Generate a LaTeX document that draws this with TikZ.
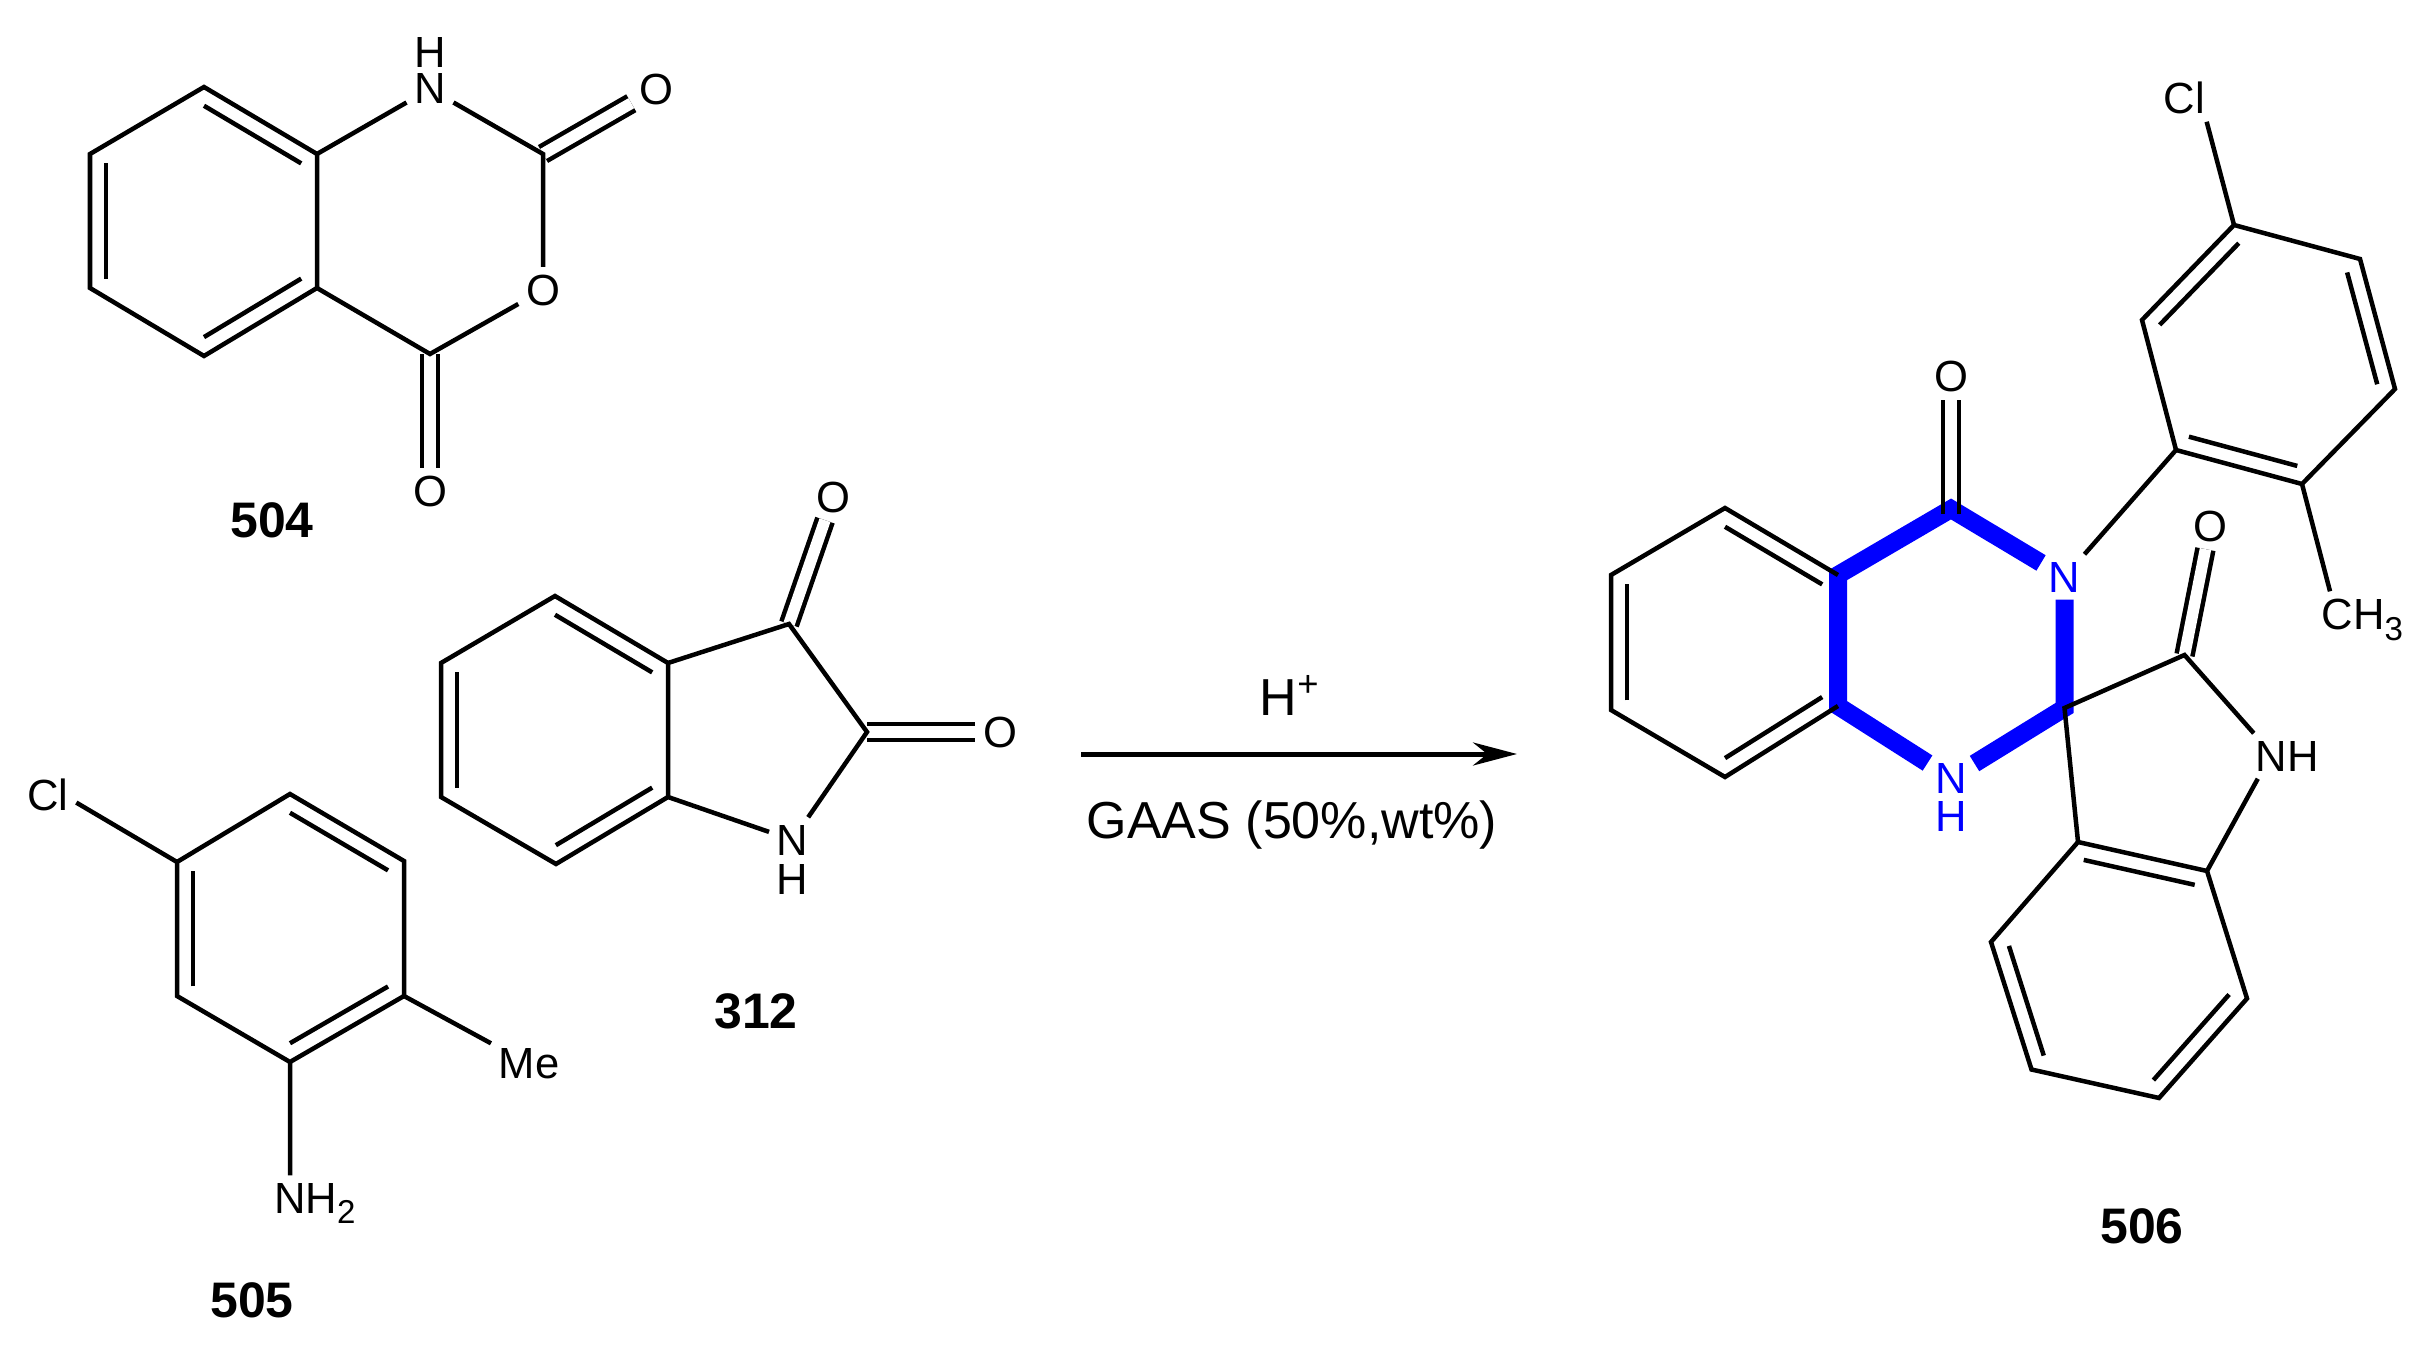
\documentclass[tikz,border=0pt]{standalone}
\usepackage{fontspec}
\setmainfont{Liberation Sans}
\usetikzlibrary{calc, arrows.meta}

\definecolor{hetblue}{RGB}{0,0,255}
\newcommand{\atomsub}[1]{\raisebox{-3pt}{\fontsize{9.4}{11}\selectfont #1}}

\tikzset{
  bond/.style={line width=0.045cm,black},
  dblbond/.style={line width=0.045cm,double=white,double distance=0.115cm,black},
  bluebond/.style={line width=0.18cm,hetblue,line join=miter},
  atom/.style={inner sep=2pt,font=\fontsize{12.4}{15}\selectfont},
  blueatom/.style={atom,text=hetblue},
  cpdlabel/.style={inner sep=0pt,font=\fontsize{14.2}{17}\selectfont\bfseries},
  reagent/.style={inner sep=2pt,font=\fontsize{14.8}{18}\selectfont},
  rxnarrow/.style={line width=0.05cm,-{Stealth[length=0.44cm,width=0.23cm]}}
}

\begin{document}
\begin{tikzpicture}[x=0.01cm,y=-0.01cm]
\useasboundingbox (0,0) rectangle (2433,1355);

\coordinate (ac) at (204,221);
\coordinate (a7) at (543,154);
\coordinate (a8) at (430,354);
\node[atom] (Na) at (430,89) {N};
\node[atom] (Ha) at (430,53) {H};
\node[atom] (Oa1) at (656,89) {O};
\node[atom] (Oa2) at (543,290) {O};
\node[atom] (Oa3) at (430,491) {O};
\draw[dblbond] (a7) -- (Oa1);
\draw[dblbond] (a8) -- (Oa3);
\draw[bond] (204,87) coordinate(a1) -- (317,154) coordinate(a2) -- (317,288) coordinate(a3) -- (204,356) coordinate(a4) -- (90,288) coordinate(a5) -- (90,154) coordinate(a6) -- cycle;
\foreach \p/\q in {a1/a2,a3/a4,a5/a6}
  \draw[bond] ($(\p)!.14!(ac)$) -- ($(\q)!.14!(ac)$);
\draw[bond] (a2) -- (Na) -- (a7) -- (Oa2) -- (a8) -- (a3);
\node[cpdlabel] (lab504) at (272,520) {504};

\coordinate (bc) at (555,730);
\coordinate (b7) at (789,624);
\coordinate (b8) at (867,732);
\node[atom] (Nb) at (792.5,840) {N};
\node[atom] (Hb) at (792.5,879) {H};
\node[atom] (Ob1) at (833,497) {O};
\node[atom] (Ob2) at (1000,732) {O};
\draw[dblbond] (b7) -- (Ob1);
\draw[dblbond] (b8) -- (Ob2);
\draw[bond] (555,596) coordinate(b1) -- (668,663) coordinate(b2) -- (668,797) coordinate(b3) -- (556,864) coordinate(b4) -- (441,797) coordinate(b5) -- (441,663) coordinate(b6) -- cycle;
\foreach \p/\q in {b1/b2,b3/b4,b5/b6}
  \draw[bond] ($(\p)!.14!(bc)$) -- ($(\q)!.14!(bc)$);
\draw[bond] (b2) -- (b7) -- (b8) -- (Nb) -- (b3);
\node[cpdlabel] (lab312) at (756,1011) {312};

\coordinate (cc) at (290,928);
\node[atom] (Clc) at (48,795) {Cl};
\node[atom] (Mec) at (529,1064) {Me};
\node[atom,anchor=base west] (NHc) at (266.3,1213) {NH\atomsub{2}};
\draw[bond] (290,794) coordinate(c1) -- (404,861) coordinate(c2) -- (404,996) coordinate(c3) -- (290,1062) coordinate(c4) -- (177,996) coordinate(c5) -- (177,862) coordinate(c6) -- cycle;
\foreach \p/\q in {c1/c2,c3/c4,c5/c6}
  \draw[bond] ($(\p)!.14!(cc)$) -- ($(\q)!.14!(cc)$);
\draw[bond] (c6) -- (Clc.-15);
\draw[bond] (c3) -- (Mec);
\draw[bond] (c4) -- ($(NHc.north west)+(23.7,0)$);
\node[cpdlabel] (lab505) at (252,1300) {505};

\coordinate (arrowL) at (1081,754);
\coordinate (arrowR) at (1517,754);
\draw[rxnarrow] (arrowL) -- (arrowR);
\node[reagent,anchor=base west] (acid) at (1252,715) {H\textsuperscript{+}};
\node[reagent,anchor=base] (gaas) at (1292,838) {GAAS (50\%,wt\%)};

\coordinate (fc) at (1725,642);
\coordinate (f2) at (1838,575);
\coordinate (f3) at (1838,706);
\coordinate (f7) at (1951,509);
\coordinate (spiro) at (2064.5,708);
\coordinate (k2) at (2184.5,655);
\node[blueatom] (Nf3) at (2064.5,577) {N};
\node[blueatom] (Nf1) at (1951,778) {N};
\node[blueatom] (Hf1) at (1951,816) {H};
\node[atom] (Of) at (1951,376) {O};
\node[atom] (Ok) at (2210,526) {O};
\node[atom] (Clg) at (2184.5,98) {Cl};
\node[atom,anchor=base west] (CHg) at (2314,629.5) {CH\atomsub{3}};
\node[atom] (NHk) at (2287,756) {NH};

\draw[dblbond] (k2) -- (Ok);
\draw[bluebond] (Nf3) -- (f7) -- (f2) -- (f3) -- (Nf1);
\draw[bluebond] (Nf3) -- (spiro) -- (Nf1);
\foreach \s in {-8,8}
  \draw[bond] ($(f7)+(\s,5)$) -- ($(Of)+(\s,24)$);

\draw[bond] (f2) -- (1725,508) coordinate(f1) -- (1611,575) coordinate(f6) -- (1611,710) coordinate(f5) -- (1725,777) coordinate(f4) -- (f3);
\foreach \p/\q in {f1/f2,f3/f4,f5/f6}
  \draw[bond] ($(\p)!.14!(fc)$) -- ($(\q)!.14!(fc)$);

\coordinate (gc) at (2268,355);
\draw[bond] (2176,450) coordinate(g1) -- (2142,320) coordinate(g2) -- (2234,225) coordinate(g3) -- (2360,259) coordinate(g4) -- (2395,389) coordinate(g5) -- (2302,484) coordinate(g6) -- cycle;
\foreach \p/\q in {g2/g3,g4/g5,g6/g1}
  \draw[bond] ($(\p)!.14!(gc)$) -- ($(\q)!.14!(gc)$);
\draw[bond] (Nf3) -- (g1);
\draw[bond] (g3) -- (Clg.-47);
\draw[bond] (g6) -- ($(CHg.north west)+(16,0)$);

\coordinate (hc) at (2119,970);
\draw[bond] (2078,842) coordinate(h1) -- (2207,871) coordinate(h2) -- (2247,998.5) coordinate(h3) -- (2159,1098) coordinate(h4) -- (2031.5,1069.5) coordinate(h5) -- (1991,942) coordinate(h6) -- cycle;
\foreach \p/\q in {h1/h2,h3/h4,h5/h6}
  \draw[bond] ($(\p)!.14!(hc)$) -- ($(\q)!.14!(hc)$);
\draw[bond] (h1) -- (spiro) -- (k2) -- ($(NHk.north west)+(6,0)$);
\draw[bond] ($(NHk.south west)+(10,0)$) -- (h2);
\node[cpdlabel] (lab506) at (2142,1226) {506};
\end{tikzpicture}
\end{document}
